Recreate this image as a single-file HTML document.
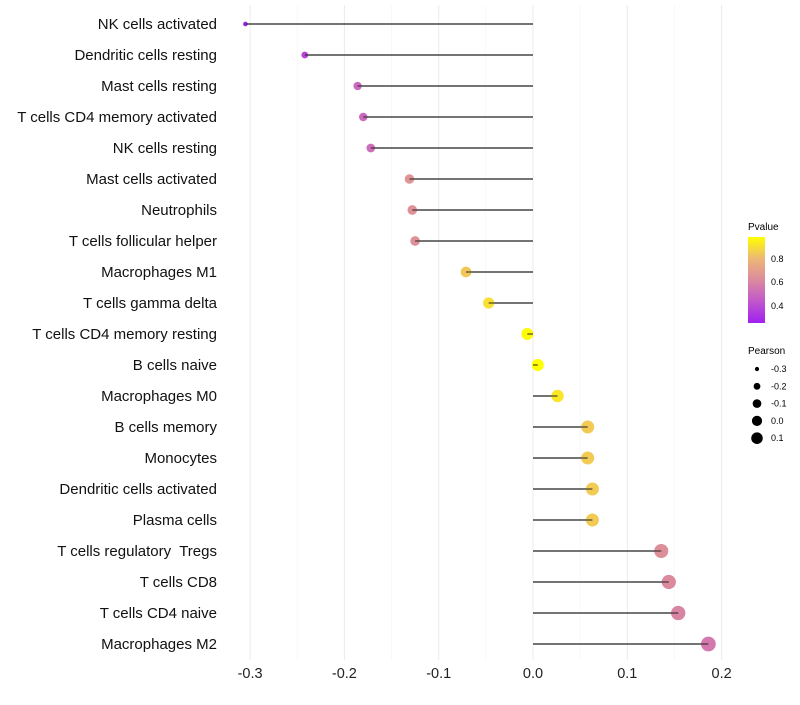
<!DOCTYPE html>
<html><head><meta charset="utf-8"><style>
body{margin:0;background:#fff;font-family:"Liberation Sans",sans-serif}
text{white-space:pre}
</style></head><body>
<svg id="chart" width="800" height="700" xmlns="http://www.w3.org/2000/svg" font-family="Liberation Sans, sans-serif">
<g id="grid"></g>
<g id="marks"></g>
<g id="ylabels"></g>
<g id="xlabels"></g>
<g>
<text x="748" y="230" font-size="10" fill="#000">Pvalue</text>
<defs><linearGradient id="pg" x1="0" y1="1" x2="0" y2="0">
<stop offset="0" stop-color="#A020F0"/><stop offset="0.27" stop-color="#C35BCA"/><stop offset="0.5" stop-color="#DB8A9E"/><stop offset="0.75" stop-color="#EDB775"/><stop offset="1" stop-color="#FFFF00"/></linearGradient></defs>
<rect x="748" y="237" width="17" height="86" fill="url(#pg)"/>
<text x="771" y="262" font-size="9">0.8</text>
<text x="771" y="285" font-size="9">0.6</text>
<text x="771" y="309" font-size="9">0.4</text>
</g>
<g id="sizeleg">
<text x="748" y="354" font-size="10">Pearson</text>
</g>
</svg>
<script>
const categories=["NK cells activated","Dendritic cells resting","Mast cells resting","T cells CD4 memory activated","NK cells resting","Mast cells activated","Neutrophils","T cells follicular helper","Macrophages M1","T cells gamma delta","T cells CD4 memory resting","B cells naive","Macrophages M0","B cells memory","Monocytes","Dendritic cells activated","Plasma cells","T cells regulatory  Tregs","T cells CD8","T cells CD4 naive","Macrophages M2"];
const pearson=[-0.305,-0.242,-0.186,-0.180,-0.172,-0.131,-0.128,-0.125,-0.071,-0.047,-0.006,0.005,0.026,0.058,0.058,0.063,0.063,0.136,0.144,0.154,0.186];
const pvalue=[0.27,0.38,0.5,0.5,0.52,0.66,0.65,0.65,0.84,0.9,0.97,0.98,0.92,0.85,0.85,0.85,0.85,0.64,0.62,0.6,0.56];
const xtickLabels=["-0.3","-0.2","-0.1","0.0","0.1","0.2"];
const sizeLegendValues=[-0.3,-0.2,-0.1,0.0,0.1];
const NS="http://www.w3.org/2000/svg";
const x=v=>533+v*943;
const y=i=>24+i*31;
const r=v=>Math.sqrt(Math.max(3,36+100*v));
const stops=[[0.25,[160,32,240]],[0.45,[195,91,202]],[0.62,[219,138,158]],[0.8,[237,183,117]],[0.98,[255,255,0]]];
function col(p){p=Math.max(0.25,Math.min(0.98,p));for(let k=0;k<stops.length-1;k++){const[a,c1]=stops[k],[b,c2]=stops[k+1];if(p<=b){const t=(p-a)/(b-a);return "rgb("+c1.map((c,j)=>Math.round(c+(c2[j]-c)*t)).join(",")+")";}}return "rgb(255,255,0)";}
function mk(tag,attrs,parent){const e=document.createElementNS(NS,tag);for(const k in attrs)e.setAttribute(k,attrs[k]);parent.appendChild(e);return e;}
const grid=document.getElementById('grid'),marks=document.getElementById('marks'),yl=document.getElementById('ylabels'),xl=document.getElementById('xlabels');
for(let v=-0.3;v<=0.2001;v+=0.05){const major=Math.abs(Math.round(v*10)-v*10)<1e-6;const l=mk('line',{x1:x(v),x2:x(v),y1:5,y2:660,stroke:major?'#ebebeb':'#f4f4f4','stroke-width':major?1:0.6},grid);

}
xtickLabels.forEach((t,i)=>{const v=parseFloat(t);const e=mk('text',{x:x(v),y:678,'font-size':14.5,'text-anchor':'middle',fill:'#222'},xl);e.textContent=t;

});
categories.forEach((c,i)=>{const t=mk('text',{x:217,y:y(i)+5,'font-size':15,'text-anchor':'end',fill:'#111'},yl);t.textContent=c;


const s=mk('line',{x1:x(0),x2:x(pearson[i]),y1:y(i),y2:y(i),stroke:'#222','stroke-width':1.2},marks);


const d=mk('circle',{cx:x(pearson[i]),cy:y(i),r:r(pearson[i]),fill:col(pvalue[i])},marks);


const l2=mk('line',{x1:x(0),x2:x(pearson[i]),y1:y(i),y2:y(i),stroke:'#222','stroke-width':1},marks);

});
const sl=document.getElementById('sizeleg');
sizeLegendValues.forEach((v,i)=>{const cy=369+i*17.3;const c=mk('circle',{cx:757,cy:cy,r:r(v)*0.85,fill:'#000'},sl);


const t=mk('text',{x:771,y:cy+3,'font-size':9},sl);t.textContent=v.toFixed(1);

});
</script>
</body></html>
